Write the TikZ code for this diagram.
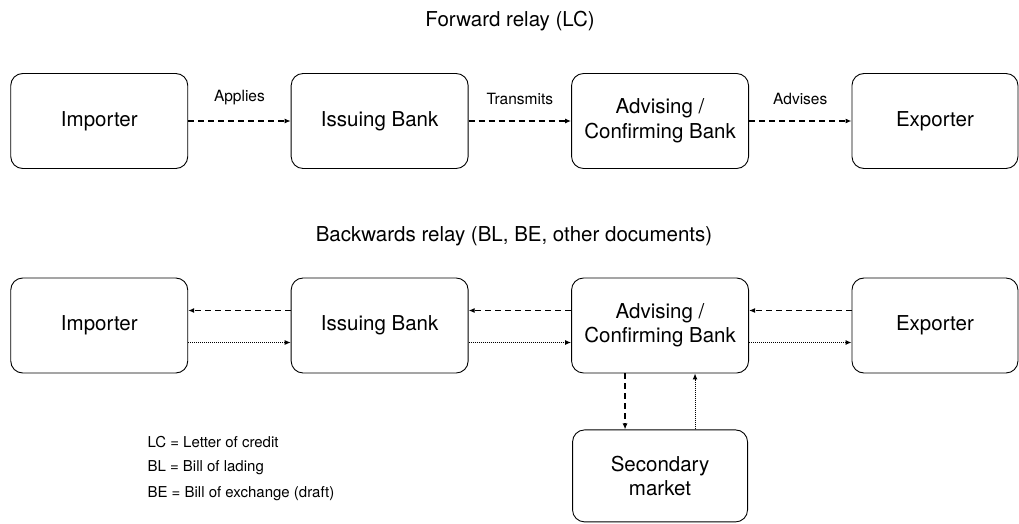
\documentclass[tikz,border=0pt]{standalone}
\usepackage{fontspec}
\setmainfont{TeX Gyre Heros}
\usetikzlibrary{shapes,arrows.meta,positioning}
\tikzstyle{party} = [rectangle, draw, line width=0.9pt, rounded corners=12pt,
    minimum width=177pt, minimum height=95pt, align=center,
    font=\fontsize{20.5}{24.5}\selectfont]
\tikzstyle{relay} = [draw, -{Latex[length=6pt,width=5pt]}, line width=1.2pt,
    dash pattern=on 6pt off 4pt]
\tikzstyle{back} = [draw, -{Latex[length=6pt,width=5pt]}, line width=1pt,
    dash pattern=on 1pt off 1pt]
\tikzstyle{step label} = [font=\fontsize{15.5}{18}\selectfont]
\tikzstyle{heading} = [font=\fontsize{20.5}{24}\selectfont]
\tikzstyle{legend} = [anchor=west, font=\fontsize{15}{18}\selectfont]

\begin{document}
\begin{tikzpicture}[x=1pt, y=-1pt, node distance=102.5pt]
    \useasboundingbox (0,0) rectangle (1019,524);
    % Forward relay
    \node [heading] (fwdtitle) at (510,21) {Forward relay (LC)};
    \node [party] (imp) at (99.25,121) {Importer};
    \node [party, right=of imp] (iss) {Issuing Bank};
    \node [party, right=of iss] (adv) {Advising /\\Confirming Bank};
    \node [party, right=of adv, minimum width=166pt] (exp) {Exporter};
    \path [relay] (imp) -- node [step label, above=12pt] {Applies} (iss);
    \path [relay] (iss) -- node [step label, above=12pt] {Transmits} (adv);
    \path [relay] (adv) -- node [step label, above=12pt] {Advises} (exp);
    % Backwards relay
    \node [heading] (backtitle) at (514,236) {Backwards relay (BL, BE, other documents)};
    \node [party] (impB) at (99.25,325.5) {Importer};
    \node [party, right=of impB] (issB) {Issuing Bank};
    \node [party, right=of issB] (advB) {Advising /\\Confirming Bank};
    \node [party, right=of advB, minimum width=166pt] (expB) {Exporter};
    \node [party, below=56pt of advB, minimum width=175pt, minimum height=92pt] (sec) {Secondary\\market};
    \path [relay] ([yshift=15pt]issB.west) -- ([yshift=15pt]impB.east);
    \path [relay] ([yshift=15pt]advB.west) -- ([yshift=15pt]issB.east);
    \path [relay] ([yshift=15pt]expB.west) -- ([yshift=15pt]advB.east);
    \path [back] ([yshift=-17pt]impB.east) -- ([yshift=-17pt]issB.west);
    \path [back] ([yshift=-17pt]issB.east) -- ([yshift=-17pt]advB.west);
    \path [back] ([yshift=-17pt]advB.east) -- ([yshift=-17pt]expB.west);
    \path [relay] ([xshift=-35pt]advB.south) -- ([xshift=-35pt]sec.north);
    \path [back] ([xshift=35pt]sec.north) -- ([xshift=35pt]advB.south);
    % Legend
    \node [legend] (lc) at (144,442) {LC = Letter of credit};
    \node [legend] (bl) at (144,468) {BL = Bill of lading};
    \node [legend] (be) at (144,494) {BE = Bill of exchange (draft)};
\end{tikzpicture}
\end{document}
